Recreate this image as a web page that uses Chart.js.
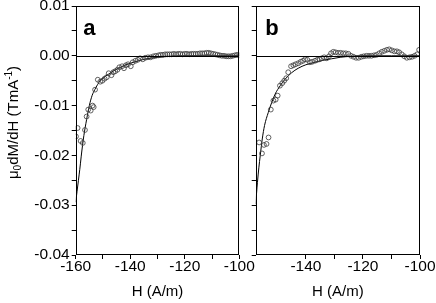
<!DOCTYPE html>
<html lang="en">
<head>
<meta charset="UTF-8">
<title>dM/dH vs H</title>
<script src="https://cdn.jsdelivr.net/npm/chart.js"></script>
<style>
  body { margin: 0; background: #fff; }
  #wrap { position: relative; width: 436px; height: 303px; }
  #wrap canvas { position: absolute; left: 0; top: 0; }
</style>
</head>
<body>
<div id="wrap">
  <canvas id="chartA" width="436" height="303"></canvas>
  <canvas id="chartB" width="436" height="303"></canvas>
</div>
<script>
// panel a: measured points
const hA = [-159.9, -159.3, -158.2, -157.4, -156.6, -156.0, -155.4, -154.5, -153.8, -153.4,
  -152.9, -151.9, -151.0, -150.2, -149.4, -148.6, -147.9, -146.9, -146.2, -145.5,
  -144.7, -144.0, -143.0, -142.3, -141.6, -140.8, -139.8, -139.1, -138.1, -137.2,
  -136.4, -135.4, -134.5, -133.5, -132.5, -131.5, -130.6, -129.6,
  -128.8, -128.0, -127.2, -126.4, -125.6, -124.8, -124.0, -123.2, -122.4, -121.6,
  -120.8, -120.0, -119.2, -118.4, -117.6, -116.8, -116.0, -115.2, -114.4, -113.6,
  -112.8, -112.0, -111.2, -110.4, -109.6, -108.8, -108.0, -107.2, -106.4, -105.6,
  -104.8, -104.0, -103.2, -102.4, -101.6, -100.8, -100.0];
const dA = [-0.0162, -0.0145, -0.0171, -0.0175, -0.0149, -0.0122, -0.0108, -0.0110, -0.0100, -0.0103,
  -0.0068, -0.0048, -0.0052, -0.0050, -0.0046, -0.0043, -0.0035, -0.0039, -0.0033, -0.0031,
  -0.0028, -0.0023, -0.0021, -0.0025, -0.0019, -0.0017, -0.0021, -0.0013, -0.0010, -0.0008,
  -0.0005, -0.0007, -0.0004, -0.0003, -0.0003, -0.0001, 0.0000, 0.0001,
  0.0002, 0.0002, 0.0003, 0.0003, 0.0003, 0.0003, 0.0004, 0.0003, 0.0004, 0.0004,
  0.0003, 0.0004, 0.0004, 0.0003, 0.0004, 0.0004, 0.0004, 0.0004, 0.0005, 0.0005,
  0.0005, 0.0006, 0.0006, 0.0005, 0.0004, 0.0003, 0.0002, 0.0001, 0.0000, 0.0000,
  -0.0001, -0.0001, -0.0001, 0.0000, 0.0001, 0.0002, 0.0001];
// panel a: fitted curve
const fitHA = [-160, -159.5, -159, -158.5, -158, -157.5, -157, -156, -155, -154, -153, -152,
  -151, -150, -148, -146, -144, -142, -140, -137, -134, -130, -125, -120, -110, -100];
const fitA = [-0.0294, -0.0272, -0.0250, -0.0228, -0.0203, -0.0180, -0.0160, -0.0128, -0.0100, -0.0080,
  -0.0068, -0.0058, -0.0050, -0.0045, -0.0037, -0.0030, -0.0024, -0.0019, -0.0015, -0.0010,
  -0.0006, -0.0003, -0.0001, 0.0000, 0.0000, 0.0000];

// panel b: measured points
const hB = [-156.4, -155.4, -154.7, -153.8, -153.1, -152.3, -151.4, -150.6, -149.9, -149.1,
  -148.3, -147.6, -146.9, -146.2, -145.2, -144.4, -143.6, -142.7, -141.8, -141.0,
  -140.3, -139.5, -138.6, -137.8, -136.8, -136.0, -135.2, -134.4, -133.6, -132.7,
  -131.9, -131.2, -130.4, -129.6, -128.7, -127.8, -126.9, -126.0, -125.1, -124.2,
  -123.3, -122.4, -121.5, -120.6, -119.7, -118.8, -117.9, -117.0, -116.1, -115.2,
  -114.3, -113.4, -112.5, -111.6, -110.8, -109.9, -109.0, -108.1, -107.3, -106.4,
  -105.5, -104.6, -103.7, -102.8, -101.9, -101.0, -100.3];
const dB = [-0.0174, -0.0196, -0.0179, -0.0177, -0.0164, -0.0108, -0.0090, -0.0088, -0.0080, -0.0060,
  -0.0055, -0.0050, -0.0045, -0.0033, -0.0021, -0.0019, -0.0017, -0.0015, -0.0012, -0.0010,
  -0.0007, -0.0008, -0.0013, -0.0012, -0.0010, -0.0008, -0.0007, -0.0005, -0.0003, -0.0005,
  -0.0001, 0.0005, 0.0008, 0.0007, 0.0006, 0.0006, 0.0005, 0.0005, 0.0004, 0.0000,
  -0.0002, -0.0004, -0.0004, -0.0002, -0.0001, 0.0000, 0.0000, 0.0000, 0.0001, 0.0002,
  0.0005, 0.0008, 0.0010, 0.0012, 0.0013, 0.0011, 0.0009, 0.0009, 0.0007, 0.0003,
  -0.0001, -0.0004, -0.0003, -0.0002, 0.0000, 0.0003, 0.0012];
// panel b: fitted curve
const fitHB = [-157.6, -157, -156.5, -156, -155.3, -154.5, -153.2, -152, -150.8, -149, -147.3,
  -145, -142.7, -140, -136.8, -134, -131, -128, -124, -120, -110, -100];
const fitB = [-0.0298, -0.0255, -0.0225, -0.0200, -0.0167, -0.0140, -0.0114, -0.0094, -0.0077, -0.0060, -0.0047,
  -0.0034, -0.0025, -0.0018, -0.0013, -0.0009, -0.0006, -0.0003, -0.0001, 0.0000, 0.0000, 0.0000];

// axis ticks
const xLabelsA = [-160, -140, -120, -100];
const xLabelsB = [-140, -120, -100];
const yLabels = [0.01, 0.00, -0.01, -0.02, -0.03, -0.04];

const FONT = '"Liberation Sans", Arial, sans-serif';
const FS = 15;
const TICK_FS = 15.5;

function pts(xs, ys) {
  return xs.map((x, i) => ({x: x, y: ys[i]}));
}

// box, zero line, panel letter and y title
const decorPlugin = {
  id: 'decor',
  afterDraw(chart, args, o) {
    const {ctx, chartArea: a} = chart;
    ctx.save();
    ctx.strokeStyle = '#000';
    ctx.lineWidth = 1;
    const l = Math.round(a.left) + 0.5, r = Math.round(a.right) - 0.5;
    const t = Math.round(a.top) + 0.5, b = Math.round(a.bottom) - 0.5;
    ctx.strokeRect(l, t, r - l, b - t);
    const y0 = Math.round(chart.scales.y.getPixelForValue(0)) + 0.5;
    ctx.beginPath();
    ctx.moveTo(l, y0);
    ctx.lineTo(r, y0);
    ctx.stroke();

    ctx.fillStyle = '#000';
    ctx.font = 'bold 22px ' + FONT;
    ctx.textBaseline = 'alphabetic';
    ctx.fillText(o.letter, a.left + o.letterDx, 35);

    if (o.yTitle) {
      ctx.translate(13, 122.5);
      ctx.rotate(-Math.PI / 2);
      const parts = [
        {t: 'μ', f: FS, dy: 5},
        {t: '0', f: 10, dy: 8},
        {t: 'dM/dH (TmA', f: FS, dy: 5},
        {t: '-1', f: 10, dy: -1},
        {t: ')', f: FS, dy: 5}
      ];
      let total = 0;
      parts.forEach(p => {
        ctx.font = p.f + 'px ' + FONT;
        p.w = ctx.measureText(p.t).width;
        total += p.w;
      });
      let x = -total / 2;
      parts.forEach(p => {
        ctx.font = p.f + 'px ' + FONT;
        ctx.fillText(p.t, x, p.dy);
        x += p.w;
      });
    }
    ctx.restore();
  }
};

function makePanel(id, cfg) {
  return new Chart(document.getElementById(id), {
    type: 'scatter',
    data: {
      datasets: [{
        data: pts(cfg.h, cfg.d),
        pointStyle: 'circle',
        pointRadius: 2.4,
        pointBorderWidth: 0.8,
        pointBorderColor: '#3a3a3a',
        pointBackgroundColor: 'rgba(0,0,0,0)',
        showLine: false,
        clip: 0
      }, {
        data: pts(cfg.fitH, cfg.fit),
        showLine: true,
        pointRadius: 0,
        borderColor: '#000',
        borderWidth: 1,
        cubicInterpolationMode: 'monotone',
        clip: 0
      }]
    },
    options: {
      responsive: false,
      animation: false,
      events: [],
      layout: { padding: { left: cfg.padLeft, right: cfg.padRight, top: 6, bottom: 0 } },
      plugins: {
        legend: { display: false },
        tooltip: { enabled: false },
        decor: { letter: cfg.letter, letterDx: cfg.letterDx, yTitle: cfg.yTitle }
      },
      scales: {
        x: {
          type: 'linear',
          min: cfg.xMin,
          max: -100,
          border: { display: false },
          grid: { drawOnChartArea: false, tickLength: 4, tickColor: '#000' },
          ticks: {
            stepSize: 10,
            autoSkip: false,
            maxRotation: 0,
            padding: 0,
            color: '#000',
            font: { family: FONT, size: TICK_FS, lineHeight: 1 },
            callback: v => cfg.xLabels.includes(Math.round(v)) ? String(Math.round(v)) : ''
          },
          afterBuildTicks: s => { s.ticks = s.ticks.filter(t => Math.abs(t.value / 10 - Math.round(t.value / 10)) < 1e-6); },
          afterFit: s => { s.height = 48; s.paddingLeft = 0; s.paddingRight = 0; },
          title: {
            display: true,
            text: 'H (A/m)',
            color: '#000',
            font: { family: FONT, size: FS },
            padding: { top: 0, bottom: 2 }
          }
        },
        y: {
          type: 'linear',
          min: -0.04,
          max: 0.01,
          border: { display: false },
          grid: { drawOnChartArea: false, tickLength: 4, tickColor: '#000' },
          ticks: {
            stepSize: 0.005,
            autoSkip: false,
            padding: 2,
            color: '#000',
            font: { family: FONT, size: TICK_FS },
            callback: v => {
              if (!cfg.yTickText) return '';
              const r = Math.round(v * 100) / 100;
              return Math.abs(v - r) < 1e-6 && yLabels.some(l => Math.abs(l - r) < 1e-9) ? r.toFixed(2) : '';
            }
          },
          afterFit: s => { s.width = cfg.yWidth; s.paddingTop = 0; s.paddingBottom = 0; }
        }
      }
    },
    plugins: [decorPlugin]
  });
}

makePanel('chartA', {
  h: hA, d: dA, fitH: fitHA, fit: fitA,
  xMin: -160, xLabels: xLabelsA,
  padLeft: 0, padRight: 436 - 239.3, yWidth: 75.7,
  yTickText: true, yTitle: true, letter: 'a', letterDx: 7.5
});

makePanel('chartB', {
  h: hB, d: dB, fitH: fitHB, fit: fitB,
  xMin: -157.6, xLabels: xLabelsB,
  padLeft: 245, padRight: 16, yWidth: 10.7,
  yTickText: false, yTitle: false, letter: 'b', letterDx: 9.5
});
</script>
</body>
</html>
